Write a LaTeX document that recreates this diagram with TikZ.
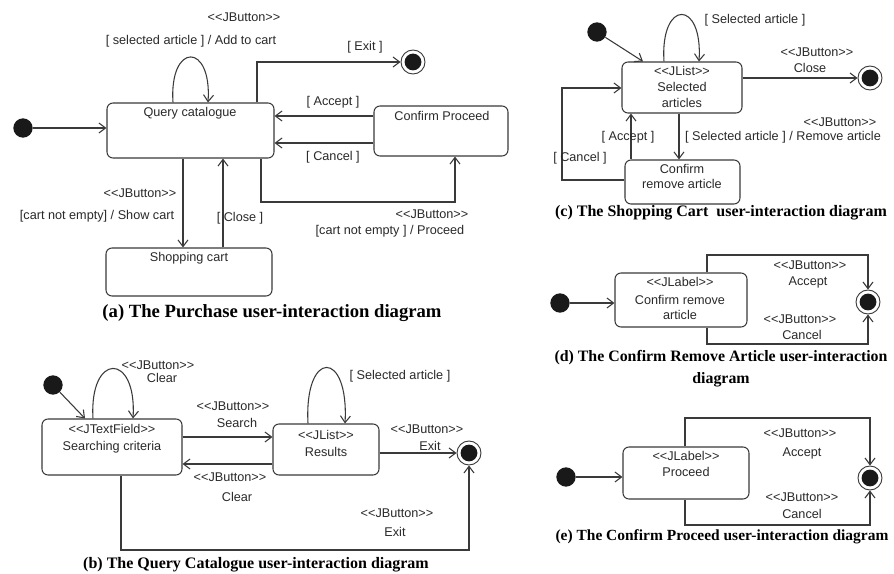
\documentclass[tikz,border=0pt]{standalone}
\usepackage{fontspec}
\setmainfont{Liberation Sans}
\newfontfamily\capfont{Liberation Serif}
\usetikzlibrary{arrows.meta}
\definecolor{ink}{HTML}{3A3A3A}
\definecolor{txt}{HTML}{2A2A2A}
% guillemet-free stereotype brackets
\newcommand\stereo[1]{<\kern0pt<#1>\kern0pt>}
\begin{document}
\begin{tikzpicture}[x=0.75pt,y=-0.75pt,
  lbl/.style={text=txt,inner sep=0pt,font=\fontsize{9.5}{11}\selectfont,align=center},
  captxt/.style={inner sep=0pt,align=center,font=\capfont\bfseries\fontsize{12}{16.5}\selectfont},
  statebox/.style={draw=ink,line width=0.8pt,rounded corners=4.5pt,inner sep=0pt},
  initst/.style={circle,fill=black!90,inner sep=0pt,minimum size=14.5pt},
  finalst/.style={circle,draw=ink,line width=0.7pt,inner sep=0pt,minimum size=18pt,
    path picture={\fill[black!90] (path picture bounding box.center) circle (6.3pt);}},
  arr/.style={draw=ink,line width=0.8pt,-{Straight Barb[length=5pt,width=7.5pt]}}
]
\useasboundingbox[fill=white] (0,0) rectangle (894,574);

% ---------------- (a) Purchase ----------------
\node[initst] (a0) at (23,128) {};
\node[statebox,minimum width=167*0.75pt,minimum height=55*0.75pt] (qc) at (190.5,130.5) {};
\node[lbl] at (190,113) {Query catalogue};
\node[statebox,minimum width=134*0.75pt,minimum height=50*0.75pt] (cp) at (441,131) {};
\node[lbl] at (442,116) {Confirm Proceed};
\node[statebox,minimum width=166*0.75pt,minimum height=48*0.75pt] (sc) at (189,272) {};
\node[lbl] at (189,258) {Shopping cart};
\node[finalst] (af) at (413,62) {};

\draw[arr] (a0) -- (a0 -| qc.west);
\draw[arr] (173,0 |- qc.north) .. controls (169,42) and (212,42) .. (208,0 |- qc.north);
\draw[arr] (257,0 |- qc.north) |- (af);
\draw[arr] (cp.west |- 0,116) -- (qc.east |- 0,116);
\draw[arr] (cp.west |- 0,143) -- (qc.east |- 0,143);
\draw[arr] (261,0 |- qc.south) -- (261,202) -| (455,0 |- cp.south);
\draw[arr] (183,0 |- qc.south) -- (183,0 |- sc.north);
\draw[arr] (223,0 |- sc.north) -- (223,0 |- qc.south);

\node[lbl] at (244,17) {\stereo{JButton}};
\node[lbl] at (191,41) {[ selected article ] / Add to cart};
\node[lbl] at (365,47) {[ Exit ]};
\node[lbl] at (333,102) {[ Accept ]};
\node[lbl] at (333,157) {[ Cancel ]};
\node[lbl] at (432,214) {\stereo{JButton}};
\node[lbl] at (390,231) {[cart not empty ] / Proceed};
\node[lbl] at (140,193) {\stereo{JButton}};
\node[lbl] at (97,216) {[cart not empty] / Show cart};
\node[lbl] at (240,218) {[ Close ]};
\node[captxt,font=\capfont\bfseries\fontsize{14}{16}\selectfont] at (272,313) {(a) The Purchase user-interaction diagram};

% ---------------- (b) Query Catalogue ----------------
\node[initst] (b0) at (53,385) {};
\node[statebox,minimum width=140*0.75pt,minimum height=56*0.75pt] (scr) at (112,447) {};
\node[lbl] at (112,429) {\stereo{JTextField}};
\node[lbl] at (112,447) {Searching criteria};
\node[statebox,minimum width=106*0.75pt,minimum height=51*0.75pt] (res) at (326,449.5) {};
\node[lbl] at (326,435) {\stereo{JList}};
\node[lbl] at (326,452) {Results};
\node[finalst] (bf) at (469,453) {};

\draw[arr] (b0) -- (85,0 |- scr.north);
\draw[arr] (93,0 |- scr.north) .. controls (89,352) and (137,352) .. (133,0 |- scr.north);
\draw[arr] (scr.east |- 0,437) -- (res.west |- 0,437);
\draw[arr] (res.west |- 0,464) -- (scr.east |- 0,464);
\draw[arr] (308,0 |- res.north) .. controls (304,349) and (349,349) .. (345,0 |- res.north);
\draw[arr] (res.east |- bf) -- (bf);
\draw[arr] (121,0 |- scr.south) -- (121,550) -| (bf.south);

\node[lbl] at (158,365) {\stereo{JButton}};
\node[lbl] at (162,378) {Clear};
\node[lbl] at (233,406) {\stereo{JButton}};
\node[lbl] at (237,423) {Search};
\node[lbl] at (230,477) {\stereo{JButton}};
\node[lbl] at (237,497) {Clear};
\node[lbl] at (400,376) {[ Selected article ]};
\node[lbl] at (427,429) {\stereo{JButton}};
\node[lbl] at (430,446) {Exit};
\node[lbl] at (397,513) {\stereo{JButton}};
\node[lbl] at (395,532) {Exit};
\node[captxt] at (256,565) {(b) The Query Catalogue user-interaction diagram};

% ---------------- (c) Shopping Cart ----------------
\node[initst] (c0) at (597,32) {};
\node[statebox,minimum width=120*0.75pt,minimum height=51*0.75pt] (sa) at (682,87.5) {};
\node[lbl] at (682,71) {\stereo{JList}};
\node[lbl] at (682,87) {Selected};
\node[lbl] at (682,103) {articles};
\node[statebox,minimum width=115*0.75pt,minimum height=44*0.75pt] (cr) at (682.5,182) {};
\node[lbl] at (682,169) {Confirm};
\node[lbl] at (682,184) {remove article};
\node[finalst] (cf) at (870,78) {};

\draw[arr] (c0) -- (643,0 |- sa.north);
\draw[arr] (664,0 |- sa.north) .. controls (660,-1) and (703,-1) .. (699,0 |- sa.north);
\draw[arr] (sa.east |- cf) -- (cf);
\draw[arr] (679,0 |- sa.south) -- (679,0 |- cr.north);
\draw[arr] (631,0 |- cr.north) -- (631,0 |- sa.south);
\draw[arr] (cr.west |- 0,180) -- (562,180) |- (sa.west |- 0,88);

\node[lbl] at (755,20) {[ Selected article ]};
\node[lbl] at (817,52) {\stereo{JButton}};
\node[lbl] at (810,68) {Close};
\node[lbl] at (840,122) {\stereo{JButton}};
\node[lbl] at (783,137) {[ Selected article ] / Remove article};
\node[lbl] at (628,137) {[ Accept ]};
\node[lbl] at (580,158) {[ Cancel ]};
\node[captxt] at (721,213) {(c) The Shopping Cart\ \ user-interaction diagram};

% ---------------- (d) Confirm Remove Article ----------------
\node[initst] (d0) at (560,303) {};
\node[statebox,minimum width=132*0.75pt,minimum height=54*0.75pt] (crd) at (681,300) {};
\node[lbl] at (680,282) {\stereo{JLabel}};
\node[lbl] at (680,300) {Confirm remove};
\node[lbl] at (680,315) {article};
\node[finalst] (df) at (868,302) {};

\draw[arr] (d0) -- (d0 -| crd.west);
\draw[arr] (707,0 |- crd.north) -- (707,255) -| (df.north);
\draw[arr] (707,0 |- crd.south) -- (707,344) -| (df.south);

\node[lbl] at (810,265) {\stereo{JButton}};
\node[lbl] at (808,282) {Accept};
\node[lbl] at (800,319) {\stereo{JButton}};
\node[lbl] at (802,335) {Cancel};
\node[captxt,font=\capfont\bfseries\fontsize{11.9}{16.5}\selectfont] at (721,369) {(d) The Confirm Remove Article user-interaction\\diagram};

% ---------------- (e) Confirm Proceed ----------------
\node[initst] (e0) at (566,477) {};
\node[statebox,minimum width=126*0.75pt,minimum height=52*0.75pt] (pr) at (686,473) {};
\node[lbl] at (686,456) {\stereo{JLabel}};
\node[lbl] at (686,472) {Proceed};
\node[finalst] (ef) at (870,478) {};

\draw[arr] (e0) -- (e0 -| pr.west);
\draw[arr] (685,0 |- pr.north) -- (685,418) -| (ef.north);
\draw[arr] (685,0 |- pr.south) -- (685,525) -| (ef.south);

\node[lbl] at (800,433) {\stereo{JButton}};
\node[lbl] at (802,453) {Accept};
\node[lbl] at (802,497) {\stereo{JButton}};
\node[lbl] at (802,514) {Cancel};
\node[captxt,font=\capfont\bfseries\fontsize{11.6}{16}\selectfont] at (722,537) {(e) The Confirm Proceed user-interaction diagram};
\end{tikzpicture}
\end{document}
